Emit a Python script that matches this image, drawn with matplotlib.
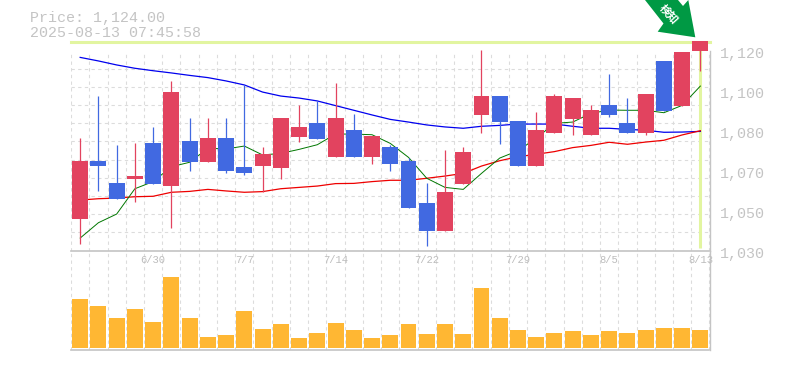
# -*- coding: utf-8 -*-
import numpy as np
import matplotlib
matplotlib.use('Agg')
import matplotlib.pyplot as plt
from matplotlib.patches import Polygon
from matplotlib.transforms import ScaledTranslation

plt.rcParams['font.family'] = ['Liberation Mono', 'Noto Sans CJK JP', 'DejaVu Sans']

# 四本値
opens = [1044.2, 1070.3, 1060.4, 1062.2, 1078.4, 1059.0, 1079.3, 1069.8, 1080.6, 1067.6, 1068.0, 1067.1,
         1081.1, 1087.4, 1072.1, 1084.2, 1072.1, 1076.6, 1070.3, 1051.4, 1038.8, 1059.9, 1091.0, 1099.5,
         1088.3, 1068.0, 1082.9, 1089.2, 1082.0, 1095.5, 1087.4, 1082.9, 1115.3, 1095.0, 1119.8]
closes = [1070.3, 1068.0, 1053.2, 1063.5, 1059.9, 1101.3, 1069.8, 1080.6, 1065.8, 1064.9, 1073.4, 1089.6,
          1085.6, 1080.2, 1089.6, 1072.1, 1081.5, 1068.9, 1049.1, 1038.8, 1056.3, 1074.3, 1099.5, 1087.8,
          1068.0, 1084.2, 1099.5, 1098.6, 1093.2, 1091.0, 1082.9, 1100.4, 1092.8, 1119.3, 1124.3]
highs = [1080.6, 1099.5, 1077.5, 1078.4, 1085.6, 1106.3, 1089.6, 1089.6, 1089.6, 1104.3, 1076.6, 1089.6,
         1095.5, 1097.3, 1105.4, 1091.4, 1081.5, 1077.5, 1071.6, 1060.4, 1075.2, 1076.6, 1120.2, 1099.5,
         1088.3, 1092.3, 1100.4, 1098.6, 1095.5, 1109.4, 1098.6, 1100.4, 1115.3, 1119.3, 1124.3]
lows = [1032.9, 1056.8, 1053.2, 1051.8, 1059.9, 1040.1, 1065.8, 1069.8, 1064.9, 1064.0, 1056.3, 1062.2,
        1078.8, 1080.2, 1072.1, 1072.1, 1068.9, 1065.8, 1049.1, 1032.0, 1038.8, 1059.9, 1082.9, 1077.9,
        1068.0, 1068.0, 1082.9, 1082.0, 1082.0, 1090.1, 1082.9, 1082.0, 1092.8, 1095.0, 1110.8]

# 移動平均
ma_blue = [1116.9, 1115.3, 1113.5, 1112.0, 1110.9, 1109.9, 1108.8, 1107.8, 1106.3, 1104.5, 1101.3, 1099.5,
           1098.6, 1097.3, 1095.2, 1093.1, 1091.0, 1089.0, 1087.8, 1086.5, 1085.6, 1085.0, 1085.9, 1086.3,
           1086.9, 1086.9, 1086.9, 1085.9, 1085.0, 1085.0, 1084.5, 1084.1, 1083.2, 1083.3, 1083.6]
ma_red = [1052.7, 1053.3, 1053.6, 1054.2, 1054.4, 1056.2, 1056.6, 1057.5, 1056.8, 1056.2, 1056.5, 1057.8,
          1058.4, 1059.0, 1060.1, 1060.2, 1061.0, 1061.6, 1061.6, 1062.5, 1063.5, 1064.7, 1068.0, 1070.4,
          1072.2, 1073.3, 1074.5, 1076.3, 1077.3, 1078.7, 1077.8, 1078.8, 1079.6, 1082.0, 1083.9]
ma_green = [1035.6, 1042.5, 1046.4, 1057.8, 1061.0, 1067.7, 1069.7, 1076.0, 1075.7, 1077.0, 1073.0, 1073.7,
            1075.5, 1077.6, 1082.4, 1082.4, 1082.1, 1078.2, 1071.9, 1062.5, 1058.4, 1057.5, 1064.7, 1071.6,
            1074.9, 1080.5, 1087.2, 1087.8, 1091.7, 1093.2, 1093.1, 1093.1, 1092.0, 1095.3, 1104.0]

# 出来高
volumes = [49, 42, 30, 39, 26, 71, 30, 11, 13, 37, 19, 24, 10, 15, 25, 18, 10, 13,
           24, 14, 24, 14, 60, 30, 18, 11, 15, 17, 13, 17, 15, 18, 20, 20, 18]

price_ticks = [1030, 1048, 1066, 1084, 1102, 1120]
price_labels = ['1,030', '1,050', '1,070', '1,080', '1,100', '1,120']
date_pos = [4, 9, 14, 19, 24, 29, 34]
date_labels = ['6/30', '7/7', '7/14', '7/22', '7/29', '8/5', '8/13']
last_price = 1124.0

W, H = 785, 370
GREY = '#c4c4c4'
GRID = '#dcdcdc'
UP = '#e2435f'
DOWN = '#4169e1'
CROSS = '#e2f5a0'


def box(left, top, right, bottom):
    return [left / W, 1 - bottom / H, (right - left) / W, (bottom - top) / H]


fig = plt.figure(figsize=(W / 100, H / 100), dpi=100)
vol = fig.add_axes(box(70.5, 250.5, 709.5, 349.5))
ax = fig.add_axes(box(70.5, 50.5, 709.5, 250.5))
ax.patch.set_alpha(0)
vol.patch.set_alpha(0)

xs = np.arange(len(opens))
cols = [UP if c > o else DOWN for o, c in zip(opens, closes)]
bottoms = [min(o, c) for o, c in zip(opens, closes)]
heights = [abs(o - c) for o, c in zip(opens, closes)]

# 現在値の十字線
ax.axhline(last_price, color=CROSS, lw=2.2, clip_on=False, zorder=1)
ax.plot([34, 34], [last_price, 1031], color=CROSS, lw=2.2, clip_on=False, zorder=1, solid_capstyle='butt')

ax.plot(xs, ma_blue, color='#0000ee', lw=0.9, zorder=2)
ax.plot(xs, ma_red, color='#ee0000', lw=0.9, zorder=2)
ax.plot(xs, ma_green, color='#007700', lw=0.7, zorder=2)

ax.vlines(xs, lows, highs, colors=cols, lw=0.9, zorder=3, clip_on=False)
ax.bar(xs, heights, bottom=bottoms, width=0.875, color=cols, zorder=4, clip_on=False)

ax.set_xlim(-0.53, 34.47)
ax.set_ylim(1030, 1120)
vol.bar(xs, volumes, width=0.875, color='#ffb733', zorder=3)
vol.set_xlim(-0.53, 34.47)
vol.set_ylim(-1.5, 97.5)

for a in (ax, vol):
    a.set_xticks(np.arange(-0.5, 35), minor=True)
    a.grid(which='minor', axis='x', color=GRID, lw=0.8, ls=(0, (3, 3)))
    a.tick_params(which='both', length=0)
    a.set_axisbelow(True)
    a.spines['left'].set_visible(False)
    a.spines['top'].set_visible(False)
    a.spines['right'].set_color(GREY)
    a.spines['bottom'].set_color(GREY)
    a.spines['bottom'].set_linewidth(1.2)
    a.spines['right'].set_linewidth(1.0)

ax.set_yticks(np.linspace(1030, 1120, 12), minor=True)
ax.grid(which='minor', axis='y', color=GRID, lw=0.8, ls=(0, (3, 3)))
ax.yaxis.tick_right()
ax.set_yticks(price_ticks)
ax.set_yticklabels(price_labels, fontsize=10.8, color=GREY)
ax.tick_params(axis='y', pad=7.5)
shift = ScaledTranslation(0, -2 / 100, fig.dpi_scale_trans)
for lab in ax.get_yticklabels():
    lab.set_transform(lab.get_transform() + shift)

ax.set_xticks(date_pos)
ax.set_xticklabels(date_labels, fontsize=7.6, color='#bdbdbd')
ax.tick_params(axis='x', pad=3.5)
vol.set_xticks([])
vol.set_yticks([])

fig.text(30 / W, 1 - 18 / H, 'Price: 1,124.00', fontsize=10.8, color=GREY, va='center')
fig.text(30 / W, 1 - 33 / H, '2025-08-13 07:45:58', fontsize=10.8, color=GREY, va='center')

# 検知の矢印 (ピクセル座標)
over = fig.add_axes([0, 0, 1, 1], zorder=10)
over.set_xlim(0, W)
over.set_ylim(H, 0)
over.axis('off')
over.patch.set_alpha(0)
over.add_patch(Polygon([(645, 0), (663.5, 23.5), (657.7, 31.7), (695.3, 37.3), (688.3, 0),
                        (683, 6), (678, 0)], closed=True, color='#009944', lw=0))
over.text(669, 14, '検知', color='white', fontsize=8.0, fontweight='bold', rotation=-48,
          ha='center', va='center', rotation_mode='anchor', family=['Noto Sans CJK JP', 'DejaVu Sans'])

fig.savefig('out.png', dpi=100)
